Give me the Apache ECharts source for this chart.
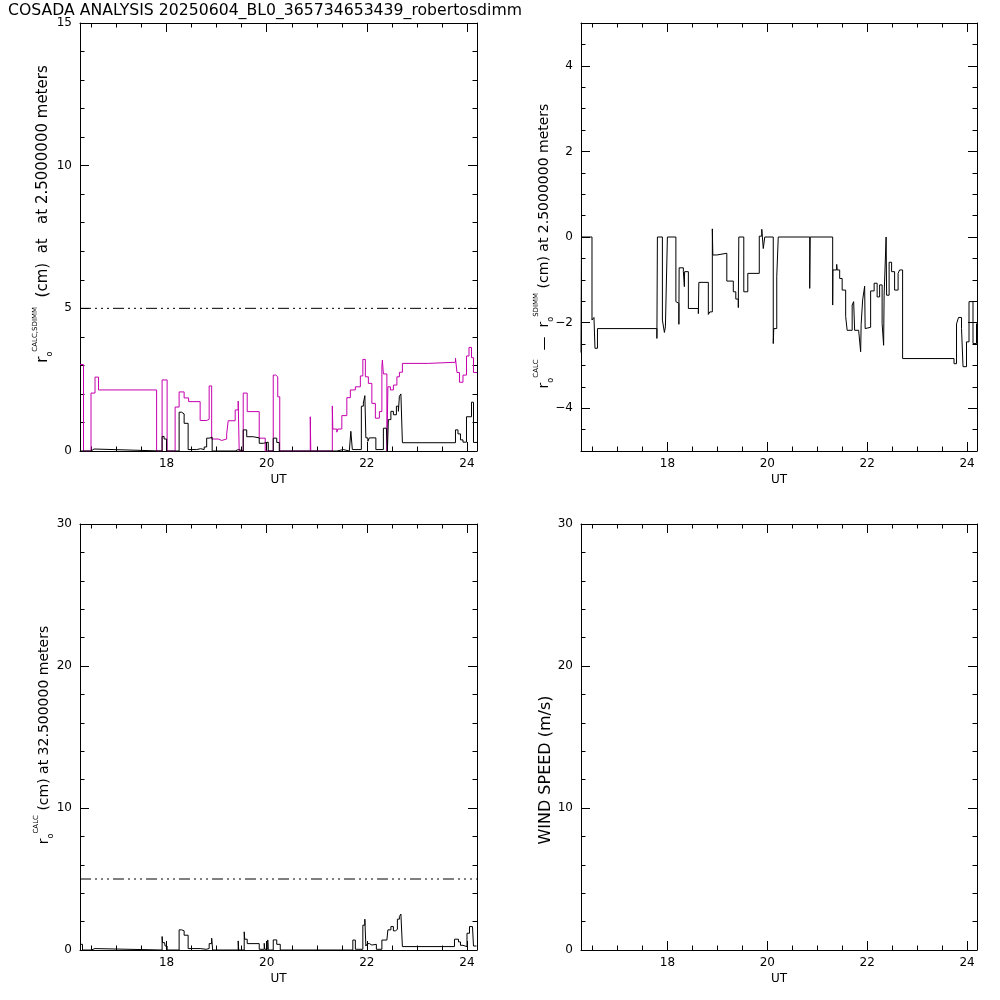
<!DOCTYPE html>
<html><head><meta charset="utf-8">
<script src="https://cdn.jsdelivr.net/npm/echarts@6/dist/echarts.min.js"></script>
<style>html,body{margin:0;padding:0;background:#fff}#c{width:1000px;height:1000px}</style>
</head><body><div id="c"></div>
<script>
// ---------------- data ----------------
const titleText = 'COSADA ANALYSIS 20250604_BL0_365734653439_robertosdimm';
const utRange = [16.27, 24.2];
const utTicks = [18, 20, 22, 24];
const utMinorTicks = [16.5, 17, 17.5, 18.5, 19, 19.5, 20.5, 21, 21.5, 22.5, 23, 23.5];
const r0Range = [0, 15];
const r0Ticks = [0, 5, 10, 15];
const r0MinorTicks = [1, 2, 3, 4, 6, 7, 8, 9, 11, 12, 13, 14];
const diffRange = [-5, 5];
const diffTicks = [-4, -2, 0, 2, 4];
const diffMinorTicks = [-4.5, -3.5, -3, -2.5, -1.5, -1, -0.5, 0.5, 1, 1.5, 2.5, 3, 3.5, 4.5];
const highRange = [0, 30];
const highTicks = [0, 10, 20, 30];
const highMinorTicks = [2, 4, 6, 8, 12, 14, 16, 18, 22, 24, 26, 28];

// r0 SDIMM at 2.5 m (magenta), [UT, cm]
const sdimmR0 = [[16.27,3.03],[16.34,0],[16.49,2.03],[16.57,2.59],[16.64,2.14],[17.80,0],[17.91,2.49],[18.01,0],[18.17,1.54],[18.25,2.07],[18.35,1.86],[18.44,1.73],[18.67,1.07],[18.80,1.11],[18.85,2.28],[18.90,0.42],[19.03,0.37],[19.10,0.42],[19.20,0.60],[19.23,1.06],[19.37,1.44],[19.43,1.75],[19.45,0],[19.53,2.03],[19.61,1.38],[19.85,0.45],[19.97,0],[20.13,2.66],[20.18,2.60],[20.22,1.90],[20.26,0],[20.87,1.20],[20.88,0],[21.31,1.58],[21.32,0.77],[21.40,0.66],[21.42,0.77],[21.50,1.24],[21.60,1.87],[21.67,2.14],[21.77,2.25],[21.87,2.63],[21.92,3.21],[21.97,2.60],[22.03,2.37],[22.10,1.67],[22.17,1.15],[22.25,1.38],[22.30,2.95],[22.31,3.19],[22.33,2.70],[22.40,0],[22.42,2.25],[22.47,2.14],[22.53,2.31],[22.60,2.60],[22.65,2.76],[22.71,3.07],[23.23,3.11],[23.77,3.25],[23.80,2.75],[23.85,2.41],[23.92,2.66],[23.99,3.33],[24.04,3.63],[24.09,3.27],[24.13,2.75],[24.20,2.75]];
// r0 CALC at 2.5 m (black)
const calcR0 = [[16.27,0],[16.49,0.07],[16.55,0],[17.91,0.51],[17.95,0.42],[18.00,0],[18.25,1.36],[18.30,1.30],[18.35,0.97],[18.43,0.05],[18.60,0.08],[18.68,0.05],[18.75,0.14],[18.80,0.45],[18.85,0.48],[18.91,0],[19.37,0.05],[19.43,0],[19.53,0.74],[19.60,0.50],[19.73,0.46],[19.85,0.27],[19.93,0.31],[20.03,0],[20.13,0.45],[20.20,0.30],[20.25,0],[21.40,0.05],[21.53,0],[21.65,0.05],[21.68,0.69],[21.71,0.05],[21.89,1.57],[21.93,1.68],[21.96,1.94],[21.98,0.46],[22.02,0.34],[22.05,0.46],[22.18,0.05],[22.33,0.80],[22.39,0.75],[22.41,0],[22.43,1.10],[22.48,1.39],[22.53,1.27],[22.59,1.57],[22.63,1.39],[22.65,1.92],[22.68,2.00],[22.71,0.29],[23.77,0.74],[23.82,0.60],[23.87,0.39],[23.92,0.31],[23.99,1.20],[24.09,1.71],[24.13,0.30],[24.20,0.30]];
// r0 CALC - r0 SDIMM at 2.5 m
const diffR0 = [[16.27,-2.70],[16.28,0],[16.49,-1.94],[16.53,-1.88],[16.55,-2.60],[16.60,-2.14],[17.79,-2.37],[17.80,0],[17.90,-1.94],[17.94,-2.23],[17.96,-2.10],[18.00,0],[18.17,-1.51],[18.21,-1.55],[18.23,-2.04],[18.235,-0.72],[18.32,-0.81],[18.34,-1.16],[18.345,-0.81],[18.42,-1.67],[18.62,-1.79],[18.63,-1.06],[18.82,-1.81],[18.85,-1.75],[18.90,0.19],[18.91,-0.42],[18.99,-0.38],[19.19,-1.03],[19.32,-1.28],[19.37,-1.45],[19.42,-1.65],[19.43,0],[19.53,-1.28],[19.61,-0.85],[19.84,0.02],[19.89,0.18],[19.92,-0.27],[19.95,0],[20.12,-2.49],[20.13,-2.14],[20.19,-0.93],[20.22,0],[20.85,-1.20],[20.86,0],[21.31,-1.59],[21.315,-0.77],[21.39,-0.64],[21.40,-0.77],[21.45,-0.97],[21.50,-1.24],[21.57,-1.86],[21.60,-2.18],[21.70,-1.59],[21.73,-1.51],[21.75,-2.18],[21.83,-2.21],[21.87,-2.68],[21.88,-2.04],[21.91,-1.47],[21.95,-1.15],[21.96,-2.14],[21.99,-2.11],[22.07,-1.26],[22.14,-1.08],[22.20,-1.40],[22.25,-1.12],[22.30,-2.02],[22.33,-2.53],[22.34,-1.36],[22.38,0],[22.39,-1.36],[22.44,-0.59],[22.49,-0.81],[22.55,-1.24],[22.62,-0.85],[22.65,-0.77],[22.71,-2.84],[23.74,-2.96],[23.79,-2.03],[23.83,-1.88],[23.89,-2.14],[23.92,-3.03],[23.99,-2.45],[24.04,-1.51],[24.12,-2.49],[24.19,-2.02]];
// r0 CALC at 32.5 m
const calcR0High = [[16.27,0.40],[16.32,0],[16.49,0.10],[16.57,0],[17.91,0.95],[17.92,0.52],[17.96,0.64],[17.97,0.28],[18.01,0],[18.25,1.42],[18.30,1.35],[18.35,1.04],[18.43,0.10],[18.67,0.05],[18.79,0.10],[18.85,0.45],[18.90,0.83],[18.92,0],[19.43,0.64],[19.44,0],[19.55,1.28],[19.56,0.76],[19.61,0.45],[19.85,0.05],[19.95,0.47],[19.96,0.05],[20.02,0.71],[20.03,0],[20.13,0.71],[20.20,0.40],[20.27,0],[21.47,0.05],[21.50,0],[21.72,0.70],[21.77,0.05],[21.92,1.75],[21.96,2.17],[21.98,0.28],[22.01,0.45],[22.05,0.35],[22.10,0.40],[22.19,0.05],[22.30,0.70],[22.40,0.76],[22.42,1.42],[22.48,1.65],[22.53,1.35],[22.57,1.45],[22.61,2.17],[22.65,2.36],[22.68,2.53],[22.71,0.24],[23.75,0.76],[23.83,0.57],[23.87,0.33],[23.92,0.24],[24.00,1.18],[24.05,1.65],[24.11,1.75],[24.13,0.28],[24.19,0.28]];
const windSpeed = [];
const r0Limit = [[16.27,5],[24.2,5]];

// ---------------- chart ----------------
const FONT = 'DejaVu Sans';
const MAGENTA = '#C400AE';
const grids = [
  {left:80, top:23, width:397, height:428},
  {left:581, top:23, width:396, height:428},
  {left:80, top:524, width:397, height:426},
  {left:581, top:524, width:396, height:426}
];
const xAxes = [], yAxes = [];
const BLACK = {color:'#000', width:1};
function tick(len, vals){return {show:true, inside:true, length:len, customValues:vals, lineStyle:BLACK};}
function fmt(v){return String(v).replace('-', '\u2212');}
function addAxes(g, yr, yMajor, yMinor) {
  const xb = {type:'value', gridIndex:g, min:utRange[0], max:utRange[1], splitLine:{show:false},
    axisLine:{show:false, onZero:false, lineStyle:BLACK}, axisLabel:{show:false}};
  xAxes.push(Object.assign({}, xb, {position:'bottom', axisTick:tick(9, utTicks),
    axisLine:{show:true, onZero:false, lineStyle:BLACK},
    axisLabel:{show:true, customValues:utTicks, fontSize:12, color:'#000', fontFamily:FONT, margin:7, formatter:fmt},
    name:'UT', nameLocation:'middle', nameGap:23, nameTextStyle:{fontSize:12, color:'#000', fontFamily:FONT}}));
  xAxes.push(Object.assign({}, xb, {position:'bottom', axisTick:tick(4.5, utMinorTicks)}));
  xAxes.push(Object.assign({}, xb, {position:'top', axisTick:tick(9, utTicks),
    axisLine:{show:true, onZero:false, lineStyle:BLACK}}));
  xAxes.push(Object.assign({}, xb, {position:'top', axisTick:tick(4.5, utMinorTicks)}));
  const yb = {type:'value', gridIndex:g, min:yr[0], max:yr[1], splitLine:{show:false},
    axisLine:{show:false, onZero:false, lineStyle:BLACK}, axisLabel:{show:false}};
  yAxes.push(Object.assign({}, yb, {position:'left', axisTick:tick(9, yMajor),
    axisLine:{show:true, onZero:false, lineStyle:BLACK},
    axisLabel:{show:true, customValues:yMajor, fontSize:12, color:'#000', fontFamily:FONT, margin:8, formatter:fmt}}));
  yAxes.push(Object.assign({}, yb, {position:'left', axisTick:tick(4.5, yMinor)}));
  yAxes.push(Object.assign({}, yb, {position:'right', axisTick:tick(9, yMajor),
    axisLine:{show:true, onZero:false, lineStyle:BLACK}}));
  yAxes.push(Object.assign({}, yb, {position:'right', axisTick:tick(4.5, yMinor)}));
}
addAxes(0, r0Range, r0Ticks, r0MinorTicks);
addAxes(1, diffRange, diffTicks, diffMinorTicks);
addAxes(2, highRange, highTicks, highMinorTicks);
addAxes(3, highRange, highTicks, highMinorTicks);

function line(g, data, color, type) {
  return {type:'line', xAxisIndex:g*4, yAxisIndex:g*4, data:data, step: type ? false : 'end',
    symbol:'none', showSymbol:false, silent:true, animation:false, clip:true,
    lineStyle:{color:color, width:1, type: type || 'solid'}};
}
const dashPattern = [11, 4, 2, 4, 2, 4, 2, 4];
const series = [
  line(0, sdimmR0, MAGENTA),
  line(0, calcR0, '#000'),
  line(0, r0Limit, '#000', dashPattern),
  line(1, diffR0, '#000'),
  line(2, calcR0High, '#000'),
  line(2, r0Limit, '#000', dashPattern),
  line(3, windSpeed, '#000')
];

function richSet(size) {
  return {
    m:{fontSize:size, fontFamily:FONT, color:'#000', lineHeight:22},
    p:{fontSize:7, fontFamily:FONT, color:'#000', verticalAlign:'top', lineHeight:22},
    b:{fontSize:8, fontFamily:FONT, color:'#000', verticalAlign:'bottom', lineHeight:22}
  };
}
function yTitle(x, y, text, size) {
  return {type:'text', x:x, y:y, rotation:Math.PI/2, silent:true,
    style:{text:text, align:'center', verticalAlign:'middle', fill:'#000',
      font: size + 'px ' + FONT, rich:richSet(size)}};
}
const graphic = [
  yTitle(43, 214, '{m|r}{b|o}{p|CALC,SDIMM}{m|  (cm)  at   at 2.5000000 meters}', 15),
  yTitle(544, 246, '{m|r}{b|o}{p|CALC}{m|  \u2014  r}{b|o}{p|SDIMM}{m| (cm) at 2.5000000 meters}', 14),
  yTitle(44, 735, '{m|r}{b|o}{p|CALC}{m| (cm) at 32.500000 meters}', 14),
  {type:'text', x:546, y:770, rotation:Math.PI/2, silent:true,
    style:{text:'WIND SPEED (m/s)', align:'center', verticalAlign:'middle', fill:'#000', font:'16px ' + FONT}}
];

const chart = echarts.init(document.getElementById('c'), null, {renderer:'canvas'});
chart.setOption({
  animation:false,
  backgroundColor:'#fff',
  title:{text:titleText, left:8, top:3, padding:0, textStyle:{fontSize:15.7, fontWeight:'normal', color:'#000', fontFamily:FONT}},
  grid:grids, xAxis:xAxes, yAxis:yAxes, series:series, graphic:graphic
});
</script></body></html>
